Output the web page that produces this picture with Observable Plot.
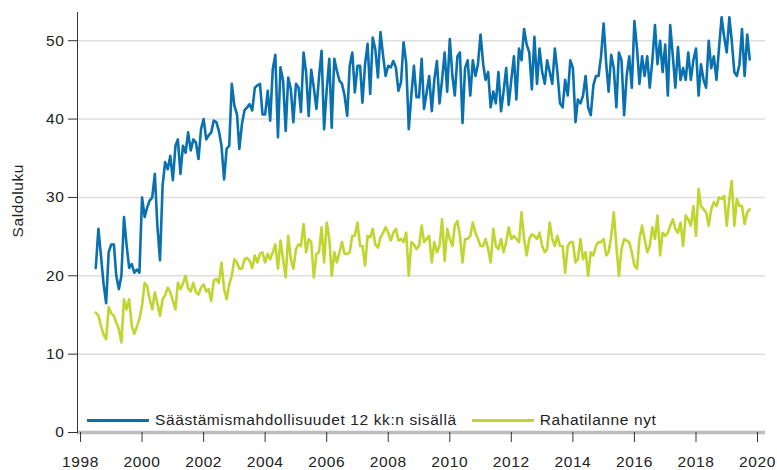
<!DOCTYPE html>
<html><head><meta charset="utf-8">
<script src="https://cdn.jsdelivr.net/npm/d3@7"></script>
<script src="https://cdn.jsdelivr.net/npm/@observablehq/plot@0.6"></script>
<style>
body{margin:0;background:#fff;font-family:Arial,"Liberation Sans",sans-serif;}
#wrap{position:relative;width:777px;height:470px;}
#chart svg text{letter-spacing:0.6px;}
#legend{position:absolute;left:87px;top:411px;display:flex;align-items:center;font-size:15.5px;letter-spacing:0.6px;color:#222;white-space:nowrap;}
#legend .item{display:flex;align-items:center;margin-right:15px;}
#legend .sw{display:inline-block;width:62px;height:3px;margin-right:6px;}
</style></head><body>
<div id="wrap"><div id="chart"></div><div id="legend"></div></div>
<script>
const seriesNames = ["Säästämismahdollisuudet 12 kk:n sisällä", "Rahatilanne nyt"];
const seriesColors = ["#0a71b0", "#bfd630"];
const yTicks = [0, 10, 20, 30, 40, 50];
const xTickYears = [1998, 2000, 2002, 2004, 2006, 2008, 2010, 2012, 2014, 2016, 2018, 2020];
const yAxisLabel = "Saldoluku";
// monthly values, July 1998 – October 2019
const savings = [
  21, 26, 22.5, 19, 16.5, 23,
  24, 24, 20, 18.3, 20, 27.5, 24, 21, 21.5, 20.4, 20.8, 20.4,
  30, 27.5, 28.7, 29.6, 30, 33, 26.4, 22, 31.5, 34.5, 33.6, 35.3,
  32.2, 36.6, 37.4, 33, 36.6, 35.7, 38.3, 36, 37.4, 37, 34.9, 38.7,
  40, 37.4, 37.9, 38.3, 39.8, 39.6, 38.5, 36.6, 32.3, 36.2, 36.6, 44.5,
  41.7, 40.6, 36.2, 39.4, 41.1, 41.5, 41.9, 41.1, 44, 44.3, 44.5, 40.6,
  40.6, 43.6, 39.8, 46.4, 48.2, 37.7, 46.6, 44.9, 38.5, 45.3, 43.8, 39.6,
  44.5, 44, 40.9, 48.5, 46, 40.4, 46.3, 44, 41.3, 45.3, 48.7, 38.7,
  43.8, 47.7, 38.9, 47.7, 46.2, 44.9, 44.5, 43, 40.4, 46.8, 48.5, 43.4,
  46.8, 46.8, 42.1, 47, 49.6, 43.2, 50.4, 48.9, 45.3, 51.1, 48.1, 45.5,
  46.8, 46.6, 47.4, 46.6, 43.6, 44.7, 49.8, 47.2, 38.7, 43, 46.8, 42.8,
  42.8, 47.7, 41.3, 43.4, 45.5, 41, 45, 47.4, 42, 45, 48.5, 43.5,
  50.2, 45.5, 43, 48, 48.5, 39.5, 46.5, 47.5, 43, 47.5, 45.5, 47,
  50.8, 47, 45, 46, 41.5, 43.5, 42, 46, 41, 43.5, 46.5, 41.8,
  45, 48, 42.5, 49, 47.5, 51.5, 49.5, 48.5, 43.8, 50.5, 44.5, 49,
  46, 44.5, 47.5, 46, 44.5, 49, 46, 42, 41.5, 45, 43, 47.5,
  46.5, 39.6, 42.5, 42, 43, 45.5, 41.5, 40.5, 44.3, 45.5, 45.5, 48,
  52.2, 47, 43.5, 48.2, 46.5, 41.5, 48.5, 47.5, 40.5, 45.5, 48, 44,
  52.5, 49, 44.5, 48, 45.5, 48, 44, 47.5, 52, 47, 50, 46,
  49.5, 43, 52, 48, 44, 49.2, 45, 46.5, 45, 48.5, 45, 47.5,
  49, 43, 47, 45, 44, 50, 46.5, 48, 45, 49, 53, 50.5,
  48.5, 53, 50, 46, 45.5, 47, 51.5, 45.5, 50.8, 47.6
];
const cash = [
  15.3, 14.9, 13.6, 12.5, 11.9, 16,
  15.2, 14.9, 14, 13.2, 11.5, 17, 15.7, 17, 13.6, 12.6, 13.5, 14.5,
  16.2, 19.1, 18.7, 17, 15.7, 17.9, 16.5, 14.9, 17, 17.5, 18.5, 17.9,
  16.8, 15.7, 19.1, 18.3, 19, 20, 18.4, 18, 19.1, 17.9, 17.6, 18.5,
  18.9, 18, 18.3, 16.8, 19.4, 19.6, 19.1, 21.7, 18.3, 17, 18.9, 20,
  22.1, 21.7, 20.9, 20.9, 22.1, 22.3, 21.9, 21, 22.6, 21.7, 22.8, 23,
  21.7, 22.8, 22.1, 23, 24, 20.9, 24.5, 22.1, 19.8, 25.1, 22.1, 20.9,
  23.4, 24, 23.8, 26.6, 23, 24.7, 24.3, 19.8, 22.8, 23, 26.2, 21.7,
  26.8, 24.7, 20, 23, 21.7, 23, 24.3, 22.8, 22.8, 23, 25.1, 25.1,
  26.8, 23.8, 23.8, 21.3, 25.1, 24.9, 26, 24, 23.6, 24.9, 25.5, 26.2,
  25.5, 24.5, 25.5, 26, 24.5, 24.7, 24.3, 25.5, 20, 24.3, 24, 23.4,
  23.8, 26.4, 24.3, 24.7, 25.1, 21.7, 24.3, 23, 23.8, 27.2, 21.9, 26,
  24.7, 23.8, 26.4, 27, 25.1, 21.7, 24.7, 24.7, 25.1, 26.8, 25.5, 24.7,
  23.8, 23.8, 24.7, 23.4, 21.7, 26, 23.8, 23.4, 24.7, 23, 24.3, 26.2,
  24.7, 25.1, 24.7, 24.3, 28.1, 24.7, 22.6, 24.7, 25.3, 25.1, 24.7, 25.5,
  23.8, 23, 23.4, 26.8, 24.7, 23.8, 25.1, 23.8, 23.8, 20.4, 23.8, 24.3,
  24.3, 21.7, 22.1, 24.7, 22.1, 23, 20, 23, 22.6, 23.8, 24.3, 24.3,
  24.7, 22.6, 23, 25.1, 28.1, 23.8, 20, 23.4, 24.7, 24.5, 24.3, 23,
  21.3, 20.9, 24.7, 26.4, 24.7, 23, 23.8, 26.2, 24.7, 27.7, 22.6, 25.5,
  25.1, 25.5, 26.4, 27.2, 26, 25.5, 26.8, 23.8, 27.7, 27.2, 26.4, 28.9,
  25.1, 31.1, 28.9, 28.5, 28.1, 26.4, 28.5, 29.4, 28.9, 30, 29.8, 30.2,
  26.4, 29.8, 32.1, 26.4, 29.8, 28.9, 28.9, 26.6, 28.1, 28.5
];
const startYear = 1998, startMonthIndex = 6; // July

const toRows = (arr, name) => arr.map((v, i) => ({
  date: new Date(Date.UTC(startYear, startMonthIndex + i, 1)), value: v, series: name
}));
const data = [...toRows(savings, seriesNames[0]), ...toRows(cash, seriesNames[1])];

const chart = Plot.plot({
  width: 777, height: 470,
  marginLeft: 77, marginRight: 12, marginTop: 12, marginBottom: 38,
  style: {fontFamily: "Arial, 'Liberation Sans', sans-serif", fontSize: "15.5px", color: "#222", background: "#fff"},
  x: {type: "utc", domain: [new Date(Date.UTC(1997, 10, 26)), new Date(Date.UTC(2020, 3, 5))]},
  y: {domain: [0, 53.6]},
  color: {domain: seriesNames, range: seriesColors},
  marks: [
    Plot.ruleY(yTicks.filter(d => d > 0), {stroke: "#dedede", strokeWidth: 1.5}),
    Plot.ruleY([0], {stroke: "#bdbdbd", strokeWidth: 3.5}),
    Plot.axisY({ticks: yTicks, tickSize: 9, tickPadding: 4, label: null, stroke: "#333"}),
    Plot.axisX({ticks: xTickYears.map(y => new Date(Date.UTC(y, 0, 1))), tickFormat: d3.utcFormat("%Y"), tickSize: 10, tickPadding: 13, label: null, stroke: "#333"}),
    Plot.frame({anchor: "left", stroke: "#333"}),
    Plot.text([yAxisLabel], {frameAnchor: "left", rotate: -90, dx: -59, dy: 15, fontSize: 15.5, fill: "#222"}),
    Plot.lineY(data, {x: "date", y: "value", z: "series", stroke: "series", strokeWidth: 2.6})
  ]
});
document.getElementById("chart").append(chart);

const legend = document.getElementById("legend");
seriesNames.forEach((name, i) => {
  const item = document.createElement("span");
  item.className = "item";
  const sw = document.createElement("span");
  sw.className = "sw";
  sw.style.background = seriesColors[i];
  item.append(sw, document.createTextNode(name));
  legend.append(item);
});
</script>
</body></html>
